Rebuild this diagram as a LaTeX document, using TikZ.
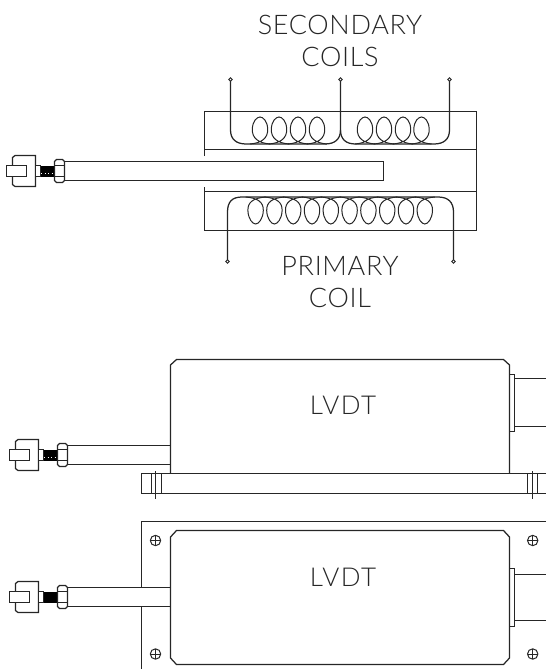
\documentclass[tikz,border=0pt]{standalone}
\usepackage{fontspec}
\setmainfont{Lato Light}
\tikzset{
  lbl/.style={inner sep=0pt,anchor=center,text=black!85,font=\fontsize{27}{27}\selectfont\addfontfeature{LetterSpace=2.5}},
  lblw/.style={inner sep=0pt,anchor=center,text=black!85,font=\fontsize{26}{26}\selectfont\addfontfeature{LetterSpace=6}},
  fastener/.pic={
    \draw[fill=white] (15.5,-10.5) -- (15.5,-13.5) -- (18,-15.5) -- (38.5,-15.5) -- (38.5,15.5) -- (18,15.5) -- (15.5,13.5) -- cycle;
    \draw[fill=white] (9.5,-5.5) rectangle (29.5,5.5);
    \draw[fill=white] (38.5,-5.5) rectangle (43.5,5.5);
    \fill[black] (43.5,-5.5) rectangle (57.5,5.5);
    \draw[fill=white] (57.5,-9.5) -- (59.5,-11.5) -- (65.5,-11.5) -- (67.5,-9.5) -- (67.5,9.5) -- (65.5,11.5) -- (59.5,11.5) -- (57.5,9.5) -- cycle;
    \draw (57.5,-5.5) -- (67.5,-5.5) (57.5,5.5) -- (67.5,5.5);
  },
  threaddots/.style={white,line width=.9pt,dash pattern=on 1pt off 2.5pt},
  screw/.pic={
    \draw[line width=1pt] (0,0) circle (5.2);
    \draw[line width=1pt] (-5.2,0) -- (5.2,0) (0,-5.2) -- (0,5.2);
  },
  term/.style={fill=white,line width=.9pt},
  coilwire/.style={line width=1pt},
}
\begin{document}
\begin{tikzpicture}[x=1pt,y=-1pt,line width=1.25pt,color=black!85]
\useasboundingbox (0,0) rectangle (546,669);
% --- schematic
\draw (204.5,156) -- (204.5,111.5) -- (476.5,111.5) -- (476.5,230.5) -- (204.5,230.5) -- (204.5,187);
\draw (204.5,149.5) -- (476.5,149.5) (204.5,191.5) -- (476.5,191.5);
\draw[fill=white] (64.5,161.5) rectangle (383.5,180.5);
\pic at (-3,171) {fastener};
\draw[threaddots] (41,173.5) -- (54,173.5);
% secondary coils
\foreach \c in {260,279,298,317,365,384,403,421.5}{
  \draw[coilwire] (\c-10,144) .. controls (\c+2,143) and (\c+8,138) .. (\c+7.7,129)
     .. controls (\c+7.4,121) and (\c+3,117) .. (\c,117)
     .. controls (\c-3,117) and (\c-7.4,121) .. (\c-7.7,129)
     .. controls (\c-8,138) and (\c-2,143) .. (\c+10,144);
}
\coordinate (s1) at (230.5,79.5);
\coordinate (s2) at (340.5,79.5);
\coordinate (s3) at (449.5,79.5);
\draw (s1) -- (230.5,130) .. controls (230.5,139) and (236,144) .. (246,144) -- (325,144)
      .. controls (335,144) and (340.5,139) .. (340.5,130) -- (s2);
\draw (340.5,130) .. controls (340.5,139) and (345.6,144) .. (355.6,144) -- (434,144)
      .. controls (444,144) and (449.5,139) .. (449.5,130) -- (s3);
\foreach \p in {s1,s2,s3}{\draw[term] (\p) circle (1.7);}
% primary coil
\foreach \i in {0,...,9}{
  \pgfmathsetmacro\c{255.6+18.8*\i}
  \draw[coilwire] (\c-10,197) .. controls (\c+2,198) and (\c+8,202) .. (\c+7.7,210.5)
     .. controls (\c+7.4,219) and (\c+3,224) .. (\c,224)
     .. controls (\c-3,224) and (\c-7.4,219) .. (\c-7.7,210.5)
     .. controls (\c-8,202) and (\c-2,198) .. (\c+10,197);
}
\coordinate (p1) at (227.5,261.5);
\coordinate (p2) at (453.5,261.5);
\draw (p1) -- (227.5,212) .. controls (227.5,202) and (232,197) .. (242,197) -- (438,197)
      .. controls (448,197) and (453.5,202) .. (453.5,212) -- (p2);
\foreach \p in {p1,p2}{\draw[term] (\p) circle (1.7);}
\node[lbl] (secondary) at (340,25) {SECONDARY};
\node[lbl] (coils) at (340,57) {COILS};
\node[lbl] (primary) at (340,266) {PRIMARY};
\node[lbl] (coil) at (340,297.5) {COIL};
% --- side view
\draw (170.5,473.5) -- (170.5,365) -- (176.5,359.5) -- (503.5,359.5) -- (509.5,365) -- (509.5,473.5);
\draw (509.5,374.5) -- (514.5,374.5) -- (514.5,431.5) -- (509.5,431.5);
\draw (514.5,378.5) -- (546,378.5) (514.5,426.5) -- (546,426.5);
\draw (546,473.5) -- (141.5,473.5) -- (141.5,493.5) -- (546,493.5);
\draw (151.5,473.5) -- (151.5,493.5) (161.5,473.5) -- (161.5,493.5) (155.5,471) -- (155.5,498.5);
\draw (527.5,473.5) -- (527.5,493.5) (537.5,473.5) -- (537.5,493.5) (532.5,471) -- (532.5,498.5);
\draw (67.5,445.5) -- (170.5,445.5) (67.5,464.5) -- (170.5,464.5);
\pic at (0,455) {fastener};
\draw[threaddots] (44,457.5) -- (57,457.5);
\node[lblw] (lvdta) at (343,405) {LVDT};
% --- top view
\draw (546,521.5) -- (141.5,521.5) -- (141.5,587.5) (141.5,606.5) -- (141.5,669);
\draw (170.5,537) -- (176.5,530.5) -- (503.5,530.5) -- (509.5,537) -- (509.5,658) -- (503.5,664.5) -- (176.5,664.5) -- (170.5,658) -- cycle;
\draw (509.5,568.5) -- (514.5,568.5) -- (514.5,626.5) -- (509.5,626.5);
\draw (514.5,574.5) -- (546,574.5) (514.5,620.5) -- (546,620.5);
\draw (67.5,587.5) -- (170.5,587.5) (67.5,606.5) -- (170.5,606.5);
\pic at (0,597) {fastener};
\pic at (155.5,540.5) {screw};
\pic at (155.5,654) {screw};
\pic at (532.7,540.5) {screw};
\pic at (532.7,654) {screw};
\node[lblw] (lvdtb) at (343,577) {LVDT};
\end{tikzpicture}
\end{document}
